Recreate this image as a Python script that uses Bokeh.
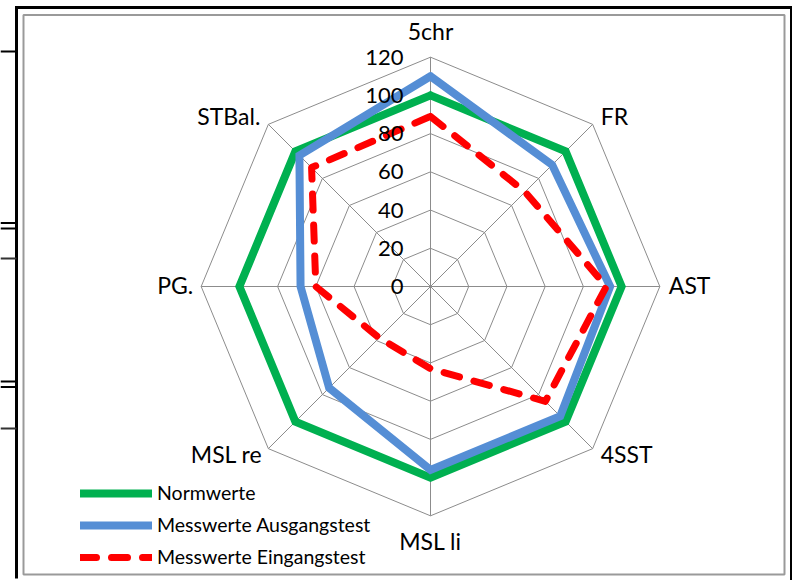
import numpy as np
from bokeh.plotting import figure
from bokeh.models import Range1d, Legend, LegendItem
from bokeh.embed import file_html
from bokeh.resources import INLINE
from bokeh.core.properties import value

# ---------------- data ----------------
categories = ["5chr", "FR", "AST", "4SST", "MSL li", "MSL re", "PG.", "STBal."]
normwerte = [100, 100, 100, 100, 100, 100, 100, 100]
ausgangstest = [110, 90, 94, 96, 96, 75, 68, 97]
eingangstest = [89, 70, 92, 85, 43, 38, 60, 88]
tick_values = [0, 20, 40, 60, 80, 100, 120]
tick_labels = ["0", "20", "40", "60", "80", "100", "120"]
series_names = ["Normwerte", "Messwerte Ausgangstest", "Messwerte Eingangstest"]

# ---------------- layout ----------------
W, H = 792, 580
OFF = 0              # page offset of the canvas
PX = 1.911           # pixels per value unit
CX, CY = 430, 286    # radar centre in canvas pixels
RMAX = 120
FONT = "Lato"

x0 = -CX / PX
x1 = (W - CX) / PX
y1 = CY / PX
y0 = -(H - CY) / PX

def fx(sx):  # page px -> data
    return (sx - OFF - CX) / PX

def fy(sy):
    return (CY - (sy - OFF)) / PX

p = figure(width=W, height=H, x_range=Range1d(x0, x1), y_range=Range1d(y0, y1),
           output_backend="svg", toolbar_location=None,
           x_axis_type=None, y_axis_type=None, min_border=0)
p.grid.visible = False
p.outline_line_color = None
p.background_fill_color = "white"
p.border_fill_color = "white"

n = len(categories)
theta = np.arange(n) * 2 * np.pi / n
ux = np.sin(theta)
uy = np.cos(theta)

def ring(vals):
    v = np.asarray(vals, dtype=float)
    xs = v * ux
    ys = v * uy
    return list(np.append(xs, xs[0])), list(np.append(ys, ys[0]))

# ---------------- frame decorations ----------------
p.segment(x0=[fx(16)], y0=[fy(5.5)], x1=[fx(16)], y1=[fy(578)], line_color="black", line_width=3)
p.segment(x0=[fx(14.5)], y0=[fy(7)], x1=[fx(792)], y1=[fy(7)], line_color="black", line_width=3)
p.segment(x0=[fx(791)], y0=[fy(5.5)], x1=[fx(791)], y1=[fy(580)], line_color="black", line_width=3)
stub_y = [51, 222.5, 228, 381, 386.5]
p.segment(x0=[fx(0)] * len(stub_y), y0=[fy(s) for s in stub_y],
          x1=[fx(16)] * len(stub_y), y1=[fy(s) for s in stub_y],
          line_color="black", line_width=2)
stub_y2 = [258, 428]
p.segment(x0=[fx(0)] * 2, y0=[fy(s) for s in stub_y2],
          x1=[fx(16)] * 2, y1=[fy(s) for s in stub_y2],
          line_color="#333333", line_width=2)
# chart area grey border
p.quad(left=[fx(23)], right=[fx(784)], top=[fy(14.5)], bottom=[fy(574)],
       fill_color=None, line_color="#9a9a9a", line_width=2)

# ---------------- grid ----------------
grid_color = "#8c8c8c"
for tv in tick_values[1:]:
    gx, gy = ring([tv] * n)
    p.line(gx, gy, line_color=grid_color, line_width=1)
p.segment(x0=[0] * n, y0=[0] * n, x1=list(RMAX * ux), y1=list(RMAX * uy),
          line_color=grid_color, line_width=1)

# ---------------- series ----------------
gx, gy = ring(normwerte)
r_norm = p.line(gx, gy, line_color="#00B050", line_width=8, line_join="miter", line_cap="round")
bx, by = ring(ausgangstest)
r_aus = p.line(bx, by, line_color="#558ED5", line_width=8, line_join="miter", line_cap="round")
rx, ry = ring(eingangstest)
r_ein = p.line(rx, ry, line_color="#FF0000", line_width=7, line_dash="16 15",
               line_cap="round", line_join="round")

# ---------------- tick labels ----------------
p.text(x=[0] * len(tick_values), y=tick_values, text=tick_labels,
       x_offset=-27, text_align="right", text_baseline="middle",
       text_font=value(FONT), text_font_size="22px", text_color="black")

# ---------------- category labels ----------------
lab_align = ["center", "left", "left", "left", "center", "right", "right", "right"]
lab_dx = [0, 8, 9, 8, 0, -6, -8, -8]
lab_dy = [-26, -8, -2, 5, 25, 5, -2, -8]
for i, c in enumerate(categories):
    p.text(x=[RMAX * ux[i]], y=[RMAX * uy[i]], text=[c],
           x_offset=lab_dx[i], y_offset=lab_dy[i],
           text_align=lab_align[i], text_baseline="alphabetic",
           text_font=value(FONT), text_font_size="23px", text_color="black")

# ---------------- legend ----------------
legend = Legend(items=[LegendItem(label=series_names[0], renderers=[r_norm]),
                       LegendItem(label=series_names[1], renderers=[r_aus]),
                       LegendItem(label=series_names[2], renderers=[r_ein])],
                location=(80, 12), orientation="vertical",
                glyph_width=72, glyph_height=20, label_height=20,
                spacing=9, padding=0, margin=0, label_standoff=5,
                label_text_font=FONT, label_text_font_size="19.5px",
                label_text_color="black",
                border_line_color=None, background_fill_alpha=0)
p.add_layout(legend)

open("out.html", "w").write(file_html(p, INLINE))
